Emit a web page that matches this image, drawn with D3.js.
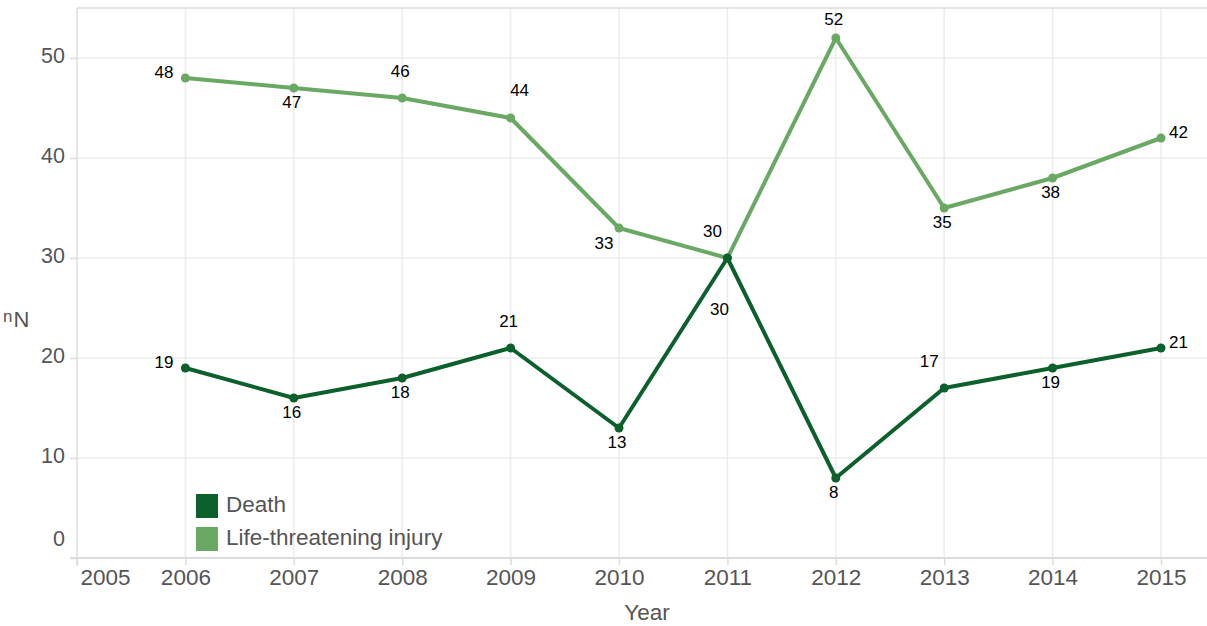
<!DOCTYPE html>
<html><head><meta charset="utf-8">
<script src="https://cdn.jsdelivr.net/npm/d3@7"></script>
<style>body{margin:0;background:#fff}svg{display:block;font-family:"Liberation Sans",Arial,sans-serif}</style>
</head><body><svg id="c" width="1207" height="626"></svg>
<script>
const years = [2006,2007,2008,2009,2010,2011,2012,2013,2014,2015];
const death = [19,16,18,21,13,30,8,17,19,21];
const injury = [48,47,46,44,33,30,52,35,38,42];
const deathLabelPos = ["left","below","below","above","below","farbelowleft","below","aboveleft","below","right"];
const injuryLabelPos = ["left","below","above","aboveright","belowleft","aboveleft","abovenear","below","below","right"];
const xTicks = [2005,2006,2007,2008,2009,2010,2011,2012,2013,2014,2015];
const yTicks = [0,10,20,30,40,50];
const seriesNames = ["Death","Life-threatening injury"];
const colors = ["#0b602c","#6aa964"];

const svg = d3.select("#c");
const L=77, R=1207, T=8, B=558;
const x = d3.scaleLinear().domain([2005,2015]).range([L,1161]);
const y = d3.scaleLinear().domain([0,55]).range([B,T]);

// grid
svg.append("g").selectAll("line").data(years).join("line")
  .attr("x1",d=>x(d)).attr("x2",d=>x(d)).attr("y1",T).attr("y2",B)
  .attr("stroke","#ececec").attr("stroke-width",1.5);
svg.append("g").selectAll("line").data(yTicks.filter(d=>d>0)).join("line")
  .attr("x1",L).attr("x2",R).attr("y1",d=>y(d)).attr("y2",d=>y(d))
  .attr("stroke","#ececec").attr("stroke-width",1.5);
// frame
svg.append("line").attr("x1",L).attr("x2",R).attr("y1",T).attr("y2",T).attr("stroke","#dcdcdc").attr("stroke-width",1.5);
svg.append("line").attr("x1",L).attr("x2",L).attr("y1",T).attr("y2",B+8).attr("stroke","#dcdcdc").attr("stroke-width",1.5);
svg.append("line").attr("x1",L-7).attr("x2",R).attr("y1",B).attr("y2",B).attr("stroke","#dcdcdc").attr("stroke-width",2);

// y axis
const yAxis = svg.append("g").attr("transform",`translate(${L},0)`)
  .call(d3.axisLeft(y).tickValues(yTicks).tickSize(7).tickPadding(5));
yAxis.select(".domain").remove();
yAxis.selectAll(".tick line").attr("stroke","#dcdcdc").attr("stroke-width",1.5);
yAxis.selectAll(".tick text").attr("fill","#555").attr("font-size","21.5px")
  .attr("font-family","Liberation Sans, Arial, sans-serif")
  .attr("dy",d=>d===0?"-0.6em":"0.2em");

// x axis
const xAxis = svg.append("g").attr("transform",`translate(0,${B})`)
  .call(d3.axisBottom(x).tickValues(xTicks).tickFormat(d3.format("d")).tickSize(7).tickPadding(4));
xAxis.select(".domain").remove();
xAxis.selectAll(".tick line").attr("stroke","#dcdcdc").attr("stroke-width",1.5);
xAxis.selectAll(".tick text").attr("fill","#555").attr("font-size","22.5px")
  .attr("font-family","Liberation Sans, Arial, sans-serif")
  .attr("text-anchor",d=>d===2005?"start":"middle").attr("x",d=>d===2005?3:0);

svg.append("text").attr("x",647).attr("y",620).attr("text-anchor","middle")
  .attr("fill","#555").attr("font-size","22.5px").text("Year");
const yl = svg.append("text").attr("x",3).attr("y",327).attr("fill","#555").attr("font-size","22px");
yl.append("tspan").attr("font-size","17px").attr("dy","-5").text("n");
yl.append("tspan").attr("dy","5").attr("dx","1").text("N");

// lines
const series = [death, injury];
const positions = [deathLabelPos, injuryLabelPos];
const line = d3.line().x((d,i)=>x(years[i])).y(d=>y(d));
[1,0].forEach(s=>{
  svg.append("path").datum(series[s]).attr("d",line).attr("fill","none")
    .attr("stroke",colors[s]).attr("stroke-width",4).attr("stroke-linejoin","round");
  svg.append("g").selectAll("circle").data(series[s]).join("circle")
    .attr("cx",(d,i)=>x(years[i])).attr("cy",d=>y(d)).attr("r",4.5).attr("fill",colors[s]);
});
const off = {left:[-12,-6,"end"], below:[-2,14,"middle"], above:[-2,-27,"middle"], abovenear:[-2,-19,"middle"],
  aboveright:[9,-28,"middle"], belowleft:[-15,15,"middle"], aboveleft:[-15,-27,"middle"],
  farbelowleft:[-8,51,"middle"], right:[8,-6,"start"]};
[0,1].forEach(s=>{
  svg.append("g").selectAll("text").data(series[s]).join("text")
    .each(function(d,i){
      const o = off[positions[s][i]];
      d3.select(this).attr("x",x(years[i])+o[0]).attr("y",y(d)+o[1]).attr("text-anchor",o[2]);
    })
    .attr("dy","0.35em").attr("font-size","17px").attr("fill","#000").text(d=>d);
});

// legend
const lg = svg.append("g").selectAll("g").data(seriesNames).join("g")
  .attr("transform",(d,i)=>`translate(196,${494+i*33})`);
lg.append("rect").attr("width",22).attr("height",24).attr("fill",(d,i)=>colors[i]);
lg.append("text").attr("x",30).attr("y",10).attr("dy","0.35em").attr("font-size","22.5px").attr("fill","#555").text(d=>d);
</script></body></html>
